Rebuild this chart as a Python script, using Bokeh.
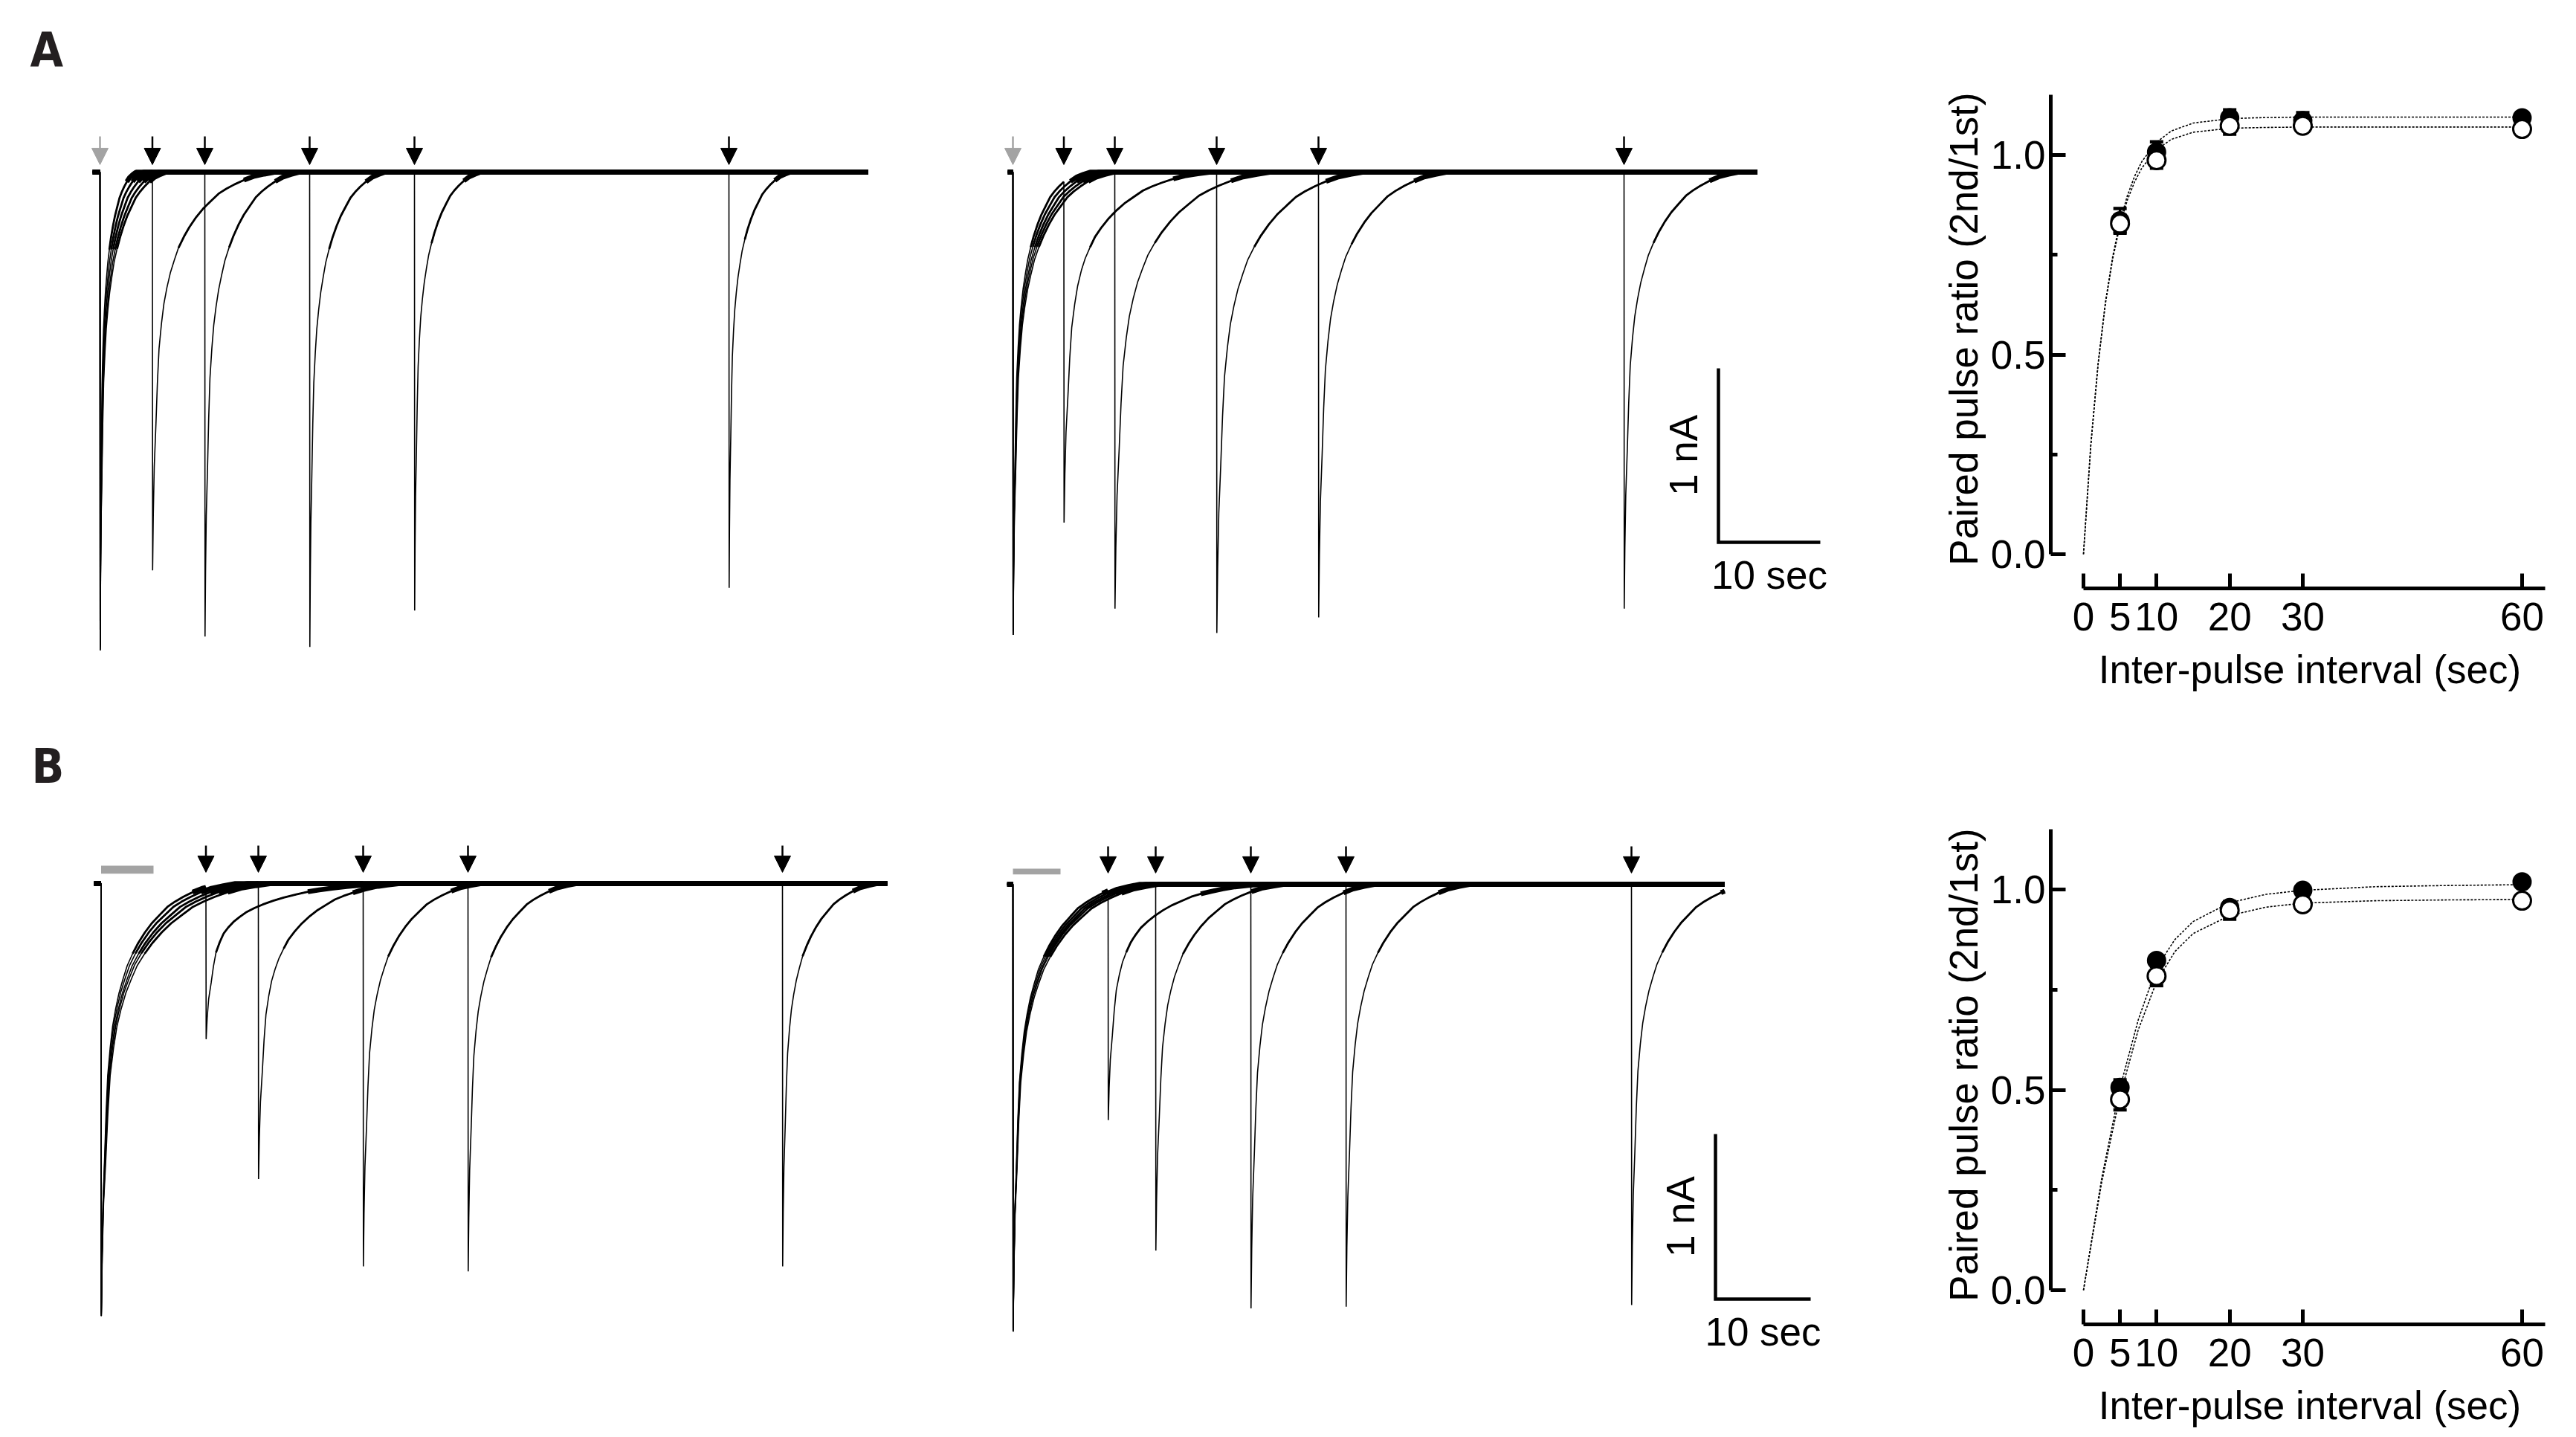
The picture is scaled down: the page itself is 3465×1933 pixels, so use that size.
import numpy as np
from bokeh.plotting import figure
from bokeh.layouts import row, column
from bokeh.models import Range1d, Arrow, NormalHead, FixedTicker, Label, PrintfTickFormatter
from bokeh.core.properties import value
from bokeh.embed import file_html
from bokeh.resources import INLINE

FONT = "Liberation Sans"
LETTER_FONT = "Liberation Sans Narrow, DejaVu Sans Condensed, Liberation Sans"

# ====================== DATA ======================
# normalised recovery of a response after its peak (time after peak in s, fraction of peak)
RECOVERY_T = [0, 0.05, 0.12, 0.24, 0.35, 0.47, 0.65, 0.83, 1.05, 1.3, 1.6, 1.9, 2.3, 2.7,
              3.2, 3.7, 4.3, 4.85, 5.4, 6.0, 6.7, 7.4, 8.2, 9.0]
RECOVERY_F = [1.0, 0.86, 0.74, 0.636, 0.53, 0.444, 0.38, 0.33, 0.29, 0.253, 0.22, 0.19, 0.162, 0.138,
              0.113, 0.092, 0.072, 0.054, 0.042, 0.031, 0.02, 0.011, 0.005, 0.0]

INTERVALS = [5, 10, 20, 30, 60]          # inter-pulse intervals (s)
B_APPLICATION = 5.0                      # conditioning application in B (s)

# Panel A, left traces (nA, time-stretch of recovery)
A_LEFT_PEAK1 = [2.75, 2.74, 2.73, 2.75, 2.72]
A_LEFT_PEAK2 = [2.29, 2.67, 2.73, 2.52, 2.39]
A_LEFT_STRETCH1 = [0.38, 0.46, 0.54, 0.62, 0.70]
A_LEFT_STRETCH2 = [1.3, 1.0, 0.8, 0.7, 0.65]
A_LEFT_SPAN = (-0.7, 73.3)

# Panel A, middle traces
A_MID_PEAK1 = [2.66, 2.65, 2.66, 2.64, 2.66]
A_MID_PEAK2 = [1.96, 2.51, 2.65, 2.56, 2.51]
A_MID_STRETCH1 = [0.75, 0.84, 0.93, 1.02, 1.10]
A_MID_STRETCH2 = [1.6, 1.7, 1.6, 1.4, 1.25]
A_MID_SPAN = (-0.5, 73.1)

# Panel B, left traces
B_LEFT_PEAK1 = [2.62, 2.61, 2.62, 2.60, 2.62]
B_LEFT_PEAK2 = [0.92, 1.79, 2.32, 2.35, 2.32]
B_LEFT_STRETCH1 = [1.30, 1.42, 1.55, 1.67, 1.80]
B_LEFT_STRETCH2 = [2.0, 1.5, 1.25, 1.15, 1.0]
B_LEFT_SPAN = (-0.67, 75.0)

# Panel B, middle traces
B_MID_PEAK1 = [2.71, 2.70, 2.71, 2.69, 2.71]
B_MID_PEAK2 = [1.39, 2.22, 2.57, 2.56, 2.55]
B_MID_STRETCH1 = [1.40, 1.48, 1.55, 1.62, 1.70]
B_MID_STRETCH2 = [1.8, 1.5, 1.45, 1.45, 1.4]
B_MID_SPAN = (-0.6, 74.8)

SCALE_NA = 1.0
SCALE_SEC = 10.0

# Paired pulse ratio
PPR_T = [5, 10, 20, 30, 60]
A_PPR_FILLED = [0.835, 1.007, 1.093, 1.086, 1.093]
A_PPR_FILLED_SEM = [0.031, 0.026, 0.020, 0.020, 0.013]
A_PPR_OPEN = [0.828, 0.987, 1.073, 1.073, 1.065]
A_PPR_OPEN_SEM = [0.021, 0.020, 0.021, 0.010, 0.010]

B_PPR_FILLED = [0.506, 0.823, 0.955, 0.998, 1.019]
B_PPR_FILLED_SEM = [0.019, 0.010, 0.010, 0.008, 0.008]
B_PPR_OPEN = [0.476, 0.784, 0.948, 0.963, 0.972]
B_PPR_OPEN_SEM = [0.026, 0.024, 0.022, 0.008, 0.008]

A_FIT_T = [0, 1, 2, 3, 4, 5, 6, 7, 8, 10, 12, 15, 20, 25, 30, 40, 50, 60]
A_FIT_FILLED = [0, 0.272, 0.477, 0.631, 0.746, 0.833, 0.898, 0.947, 0.984, 1.032, 1.060, 1.080,
                1.091, 1.094, 1.095, 1.095, 1.095, 1.095]
A_FIT_OPEN = [0, 0.273, 0.476, 0.627, 0.740, 0.824, 0.887, 0.933, 0.968, 1.013, 1.039, 1.057,
              1.067, 1.069, 1.070, 1.070, 1.070, 1.070]
B_FIT_T = [0, 2.5, 5, 7.5, 10, 12.5, 15, 20, 25, 30, 40, 50, 60]
B_FIT_FILLED = [0, 0.28, 0.505, 0.675, 0.805, 0.875, 0.92, 0.967, 0.988, 0.998, 1.007, 1.010, 1.012]
B_FIT_OPEN = [0, 0.27, 0.485, 0.65, 0.77, 0.845, 0.89, 0.935, 0.956, 0.966, 0.972, 0.974, 0.975]

# ====================== LAYOUT / STYLE ======================
A_ROW = (0, 978)
B_ROW = (978, 1930)
COLS = [(0, 1260), (1260, 2490), (2490, 3455)]
GRAY = "#a3a3a3"

RT = np.array(RECOVERY_T)
RF = np.array(RECOVERY_F)
EPS = 0.02


def response(t, onset, peak, stretch):
    tt = np.round(t - onset - EPS, 9)
    f = np.interp(np.clip(tt, 0, None), RT * stretch, RF, left=0.0, right=0.0)
    f = np.where(tt < 0, 0.0, f)
    return -peak * f


def sweep(span, t1, t2, pk1, pk2, s1, s2):
    grid = np.concatenate([[span[0], t1, t2, span[1]], t1 + EPS + RT * s1, t2 + EPS + RT * s2])
    grid = np.unique(np.round(grid, 9))
    grid = grid[(grid >= span[0]) & (grid <= span[1])]
    cur = response(grid, t1, pk1, s1) + response(grid, t2, pk2, s2)
    return grid, cur


def trace_figure(col, rw, t0_px, px_per_s, base_px, px_per_na):
    x0, x1 = col
    y0, y1 = rw
    p = figure(width=x1 - x0, height=y1 - y0,
               x_range=Range1d((x0 - t0_px) / px_per_s, (x1 - t0_px) / px_per_s),
               y_range=Range1d((base_px - y1) / px_per_na, (base_px - y0) / px_per_na),
               output_backend="svg", toolbar_location=None, min_border=0,
               x_axis_location=None, y_axis_location=None)
    p.outline_line_color = None
    p.grid.visible = False
    return p


def draw_traces(p, span, second_times, peaks1, peaks2, s1s, s2s):
    for t2, pk1, pk2, s1, s2 in zip(second_times, peaks1, peaks2, s1s, s2s):
        t, c = sweep(span, 0.0, t2, pk1, pk2, s1, s2)
        p.line(t, c, line_color="black", line_width=1.6)
        for thr, w in [(0.45, 2.8), (0.06, 6.5)]:
            cc = np.where(np.abs(c) <= thr, c, np.nan)
            p.line(t, cc, line_color="black", line_width=w)


def draw_arrow(p, t, y_top, y_tip, color):
    p.add_layout(Arrow(end=NormalHead(size=22, fill_color=color, line_color=color, line_width=1),
                       x_start=t, y_start=y_top, x_end=t, y_end=y_tip,
                       line_color=color, line_width=2.5))


def scale_bar(p, t_corner, i_corner):
    p.line([t_corner, t_corner, t_corner + SCALE_SEC],
           [i_corner + SCALE_NA, i_corner, i_corner],
           line_color="black", line_width=4.5, line_join="miter")
    p.text(x=[t_corner], y=[i_corner + SCALE_NA / 2], text=["1 nA"], angle=np.pi / 2,
           x_offset=-47, text_align="center", text_baseline="middle",
           text_font=value(FONT), text_font_size="53px", text_color="black")
    p.text(x=[t_corner + SCALE_SEC / 2], y=[i_corner], text=["10 sec"], y_offset=44,
           text_align="center", text_baseline="middle",
           text_font=value(FONT), text_font_size="53px", text_color="black")


def panel_letter(p, x, y, letter):
    p.add_layout(Label(x=x, y=y, text=letter, text_font=LETTER_FONT, text_font_size="64px",
                       text_font_style="bold", text_color="#231f20", text_baseline="alphabetic",
                       text_align="left"))


def ppr_figure(col, rw, frame_top, axis_y_px, zero_y_px, px_per_unit,
               fit_t, fit_filled, fit_open, filled, filled_sem, opn, opn_sem):
    x0, x1 = col
    y0, y1 = rw
    frame_left = 2758
    zero_x_px = 2802
    px_per_s = 9.833
    p = figure(width=x1 - x0, height=y1 - y0,
               x_range=Range1d((frame_left - zero_x_px) / px_per_s, (x1 - zero_x_px) / px_per_s),
               y_range=Range1d((zero_y_px - axis_y_px) / px_per_unit, (zero_y_px - frame_top) / px_per_unit),
               output_backend="svg", toolbar_location=None,
               min_border_left=frame_left - x0, min_border_right=0,
               min_border_top=frame_top - y0, min_border_bottom=y1 - axis_y_px)
    p.outline_line_color = None
    p.grid.visible = False

    p.line(fit_t, fit_filled, line_color="black", line_width=1.6, line_dash="3 2")
    p.line(fit_t, fit_open, line_color="black", line_width=1.6, line_dash="3 2")

    f_lo = [m - s for m, s in zip(filled, filled_sem)]
    f_hi = [m + s for m, s in zip(filled, filled_sem)]
    o_lo = [m - s for m, s in zip(opn, opn_sem)]
    o_hi = [m + s for m, s in zip(opn, opn_sem)]

    p.segment(x0=PPR_T, y0=f_lo, x1=PPR_T, y1=f_hi, line_color="black", line_width=3.5)
    p.scatter(PPR_T + PPR_T, f_lo + f_hi, marker="dash", size=18, line_width=4.5, line_color="black")
    p.scatter(PPR_T, filled, marker="circle", size=24, fill_color="black", line_color="black", line_width=2)

    p.segment(x0=PPR_T, y0=o_lo, x1=PPR_T, y1=o_hi, line_color="black", line_width=3.5)
    p.scatter(PPR_T + PPR_T, o_lo + o_hi, marker="dash", size=18, line_width=4.5, line_color="black")
    p.scatter(PPR_T, opn, marker="circle", size=24, fill_color="white", line_color="black", line_width=3)

    p.xaxis.ticker = FixedTicker(ticks=[0, 5, 10, 20, 30, 60])
    p.yaxis.ticker = FixedTicker(ticks=[0, 0.5, 1.0], minor_ticks=[0.25, 0.75])
    p.yaxis.formatter = PrintfTickFormatter(format="%.1f")
    p.xaxis.bounds = (0, 63.15)
    p.yaxis.bounds = (0, 1.15)
    p.xaxis.axis_label = "Inter-pulse interval (sec)"
    p.yaxis.axis_label = "Paired pulse ratio (2nd/1st)"
    for ax in (p.xaxis, p.yaxis):
        ax.axis_line_width = 5
        ax.axis_line_color = "black"
        ax.major_tick_line_width = 5
        ax.major_tick_line_color = "black"
        ax.major_tick_in = 20
        ax.major_tick_out = 0
        ax.major_label_text_font = FONT
        ax.major_label_text_font_size = "53px"
        ax.major_label_text_color = "black"
        ax.major_label_text_line_height = 1.0
        ax.axis_label_text_font = FONT
        ax.axis_label_text_font_size = "53px"
        ax.axis_label_text_font_style = "normal"
        ax.axis_label_text_color = "black"
        ax.axis_label_text_line_height = 1.0
    p.xaxis.minor_tick_line_color = None
    p.yaxis.minor_tick_in = 9
    p.yaxis.minor_tick_out = 0
    p.yaxis.minor_tick_line_width = 5
    p.yaxis.minor_tick_line_color = "black"
    p.xaxis.major_label_standoff = 19
    p.yaxis.major_label_standoff = 7
    p.xaxis.axis_label_standoff = 20
    p.yaxis.axis_label_standoff = 4
    return p


# ---------------- Row A ----------------
A_ARROW_TOP, A_ARROW_TIP = 0.205, 0.043
a_left = trace_figure(COLS[0], A_ROW, 134, 14.1, 231, 234)
draw_traces(a_left, A_LEFT_SPAN, INTERVALS, A_LEFT_PEAK1, A_LEFT_PEAK2, A_LEFT_STRETCH1, A_LEFT_STRETCH2)
draw_arrow(a_left, 0.0, A_ARROW_TOP, A_ARROW_TIP, GRAY)
for t in INTERVALS:
    draw_arrow(a_left, t, A_ARROW_TOP, A_ARROW_TIP, "black")
panel_letter(a_left, -6.67, 0.70, "A")

a_mid = trace_figure(COLS[1], A_ROW, 1362, 13.7, 231, 234)
draw_traces(a_mid, A_MID_SPAN, INTERVALS, A_MID_PEAK1, A_MID_PEAK2, A_MID_STRETCH1, A_MID_STRETCH2)
draw_arrow(a_mid, 0.0, A_ARROW_TOP, A_ARROW_TIP, GRAY)
for t in INTERVALS:
    draw_arrow(a_mid, t, A_ARROW_TOP, A_ARROW_TIP, "black")
scale_bar(a_mid, 69.27, -2.128)

a_ppr = ppr_figure(COLS[2], A_ROW, 93, 791, 745, 537, A_FIT_T, A_FIT_FILLED, A_FIT_OPEN,
                   A_PPR_FILLED, A_PPR_FILLED_SEM, A_PPR_OPEN, A_PPR_OPEN_SEM)

# ---------------- Row B ----------------
B_ARROW_TOP, B_ARROW_TIP = 0.23, 0.068
B_SECOND = [B_APPLICATION + iv for iv in INTERVALS]

b_left = trace_figure(COLS[0], B_ROW, 135.5, 14.1, 1188, 222)
draw_traces(b_left, B_LEFT_SPAN, B_SECOND, B_LEFT_PEAK1, B_LEFT_PEAK2, B_LEFT_STRETCH1, B_LEFT_STRETCH2)
b_left.quad(left=[0], right=[B_APPLICATION], bottom=[0.06], top=[0.108], fill_color=GRAY, line_color=None)
for t in B_SECOND:
    draw_arrow(b_left, t, B_ARROW_TOP, B_ARROW_TIP, "black")
panel_letter(b_left, -6.63, 0.71, "B")

b_mid = trace_figure(COLS[1], B_ROW, 1362, 12.8, 1189, 222)
draw_traces(b_mid, B_MID_SPAN, B_SECOND, B_MID_PEAK1, B_MID_PEAK2, B_MID_STRETCH1, B_MID_STRETCH2)
b_mid.quad(left=[0], right=[B_APPLICATION], bottom=[0.06], top=[0.095], fill_color=GRAY, line_color=None)
for t in B_SECOND:
    draw_arrow(b_mid, t, B_ARROW_TOP, B_ARROW_TIP, "black")
scale_bar(b_mid, 73.83, -2.514)

b_ppr = ppr_figure(COLS[2], B_ROW, 1083, 1781, 1735, 539, B_FIT_T, B_FIT_FILLED, B_FIT_OPEN,
                   B_PPR_FILLED, B_PPR_FILLED_SEM, B_PPR_OPEN, B_PPR_OPEN_SEM)

layout = row(column(a_left, b_left), column(a_mid, b_mid), column(a_ppr, b_ppr))

open("out.html", "w").write(file_html(layout, INLINE))
